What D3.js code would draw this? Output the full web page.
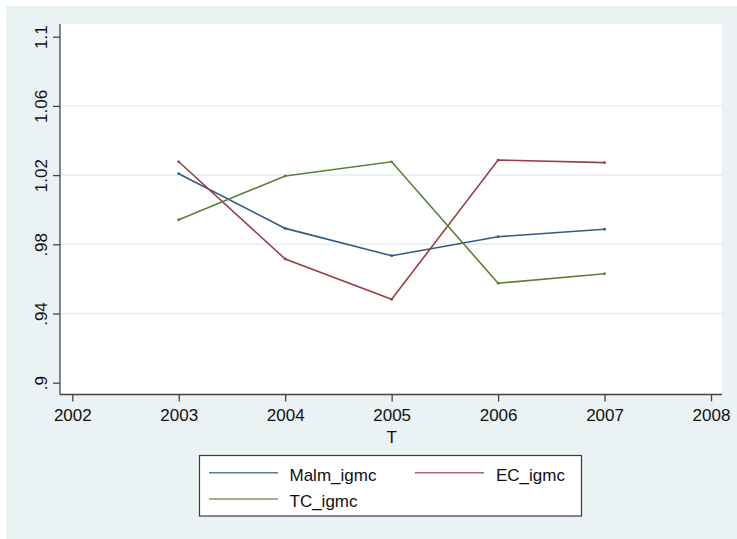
<!DOCTYPE html>
<html>
<head>
<meta charset="utf-8">
<script src="https://cdn.jsdelivr.net/npm/d3@7"></script>
<style>
  html, body { margin: 0; padding: 0; background: #ffffff; }
  svg { display: block; font-family: "Liberation Sans", Arial, Helvetica, sans-serif; }
</style>
</head>
<body>
<svg id="chart" width="737" height="539"></svg>
<script>
// Yearly index values
const years = [2003, 2004, 2005, 2006, 2007];
const malmIgmc = [1.0208, 0.9892, 0.9734, 0.9844, 0.9887];
const ecIgmc   = [1.0277, 0.9715, 0.9482, 1.0287, 1.0272];
const tcIgmc   = [0.9942, 1.0195, 1.0277, 0.9575, 0.9630];

const xTicks = [2002, 2003, 2004, 2005, 2006, 2007, 2008];
const yTicks = [0.9, 0.94, 0.98, 1.02, 1.06, 1.1];
const yTickLabels = [".9", ".94", ".98", "1.02", "1.06", "1.1"];

const seriesNames = ["Malm_igmc", "EC_igmc", "TC_igmc"];
const seriesValues = [malmIgmc, ecIgmc, tcIgmc];
const seriesColors = ["#2f5b86", "#9b3f46", "#5e7f38"];

const svg = d3.select("#chart");

// Outer graph region
svg.append("rect")
  .attr("x", 6).attr("y", 6).attr("width", 731).attr("height", 533)
  .attr("fill", "#eaf2f3");

// Plot region
const plot = { left: 60, top: 24, right: 722, bottom: 394.5 };
svg.append("rect")
  .attr("x", plot.left).attr("y", plot.top)
  .attr("width", plot.right - plot.left).attr("height", plot.bottom - plot.top)
  .attr("fill", "#ffffff");

const x = d3.scaleLinear().domain([2002, 2008]).range([72.3, 711]);
const y = d3.scaleLinear().domain([0.9, 1.1]).range([382.7, 36.7]);

// Horizontal grid
svg.append("g")
  .selectAll("line")
  .data(yTicks.filter(t => t > 0.9 && t < 1.1))
  .join("line")
  .attr("x1", plot.left).attr("x2", plot.right)
  .attr("y1", d => y(d)).attr("y2", d => y(d))
  .attr("stroke", "#e6eef0").attr("stroke-width", 1.5);

// Y axis
const yAxis = d3.axisLeft(y)
  .tickValues(yTicks)
  .tickFormat((d, i) => yTickLabels[i])
  .tickSize(7)
  .tickSizeOuter(0);
const gy = svg.append("g")
  .attr("transform", `translate(${plot.left},0)`)
  .call(yAxis);
gy.select(".domain")
  .attr("d", `M0,${plot.top}V${plot.bottom}`)
  .attr("stroke", "#444").attr("stroke-width", 1.3);
gy.selectAll(".tick line").attr("stroke", "#444").attr("stroke-width", 1.3);
gy.selectAll(".tick text")
  .attr("font-size", 17)
  .attr("fill", "#111")
  .attr("text-anchor", "middle")
  .attr("transform", "rotate(-90)")
  .attr("x", 0)
  .attr("y", -13.3)
  .attr("dy", 0);

// X axis
const xAxis = d3.axisBottom(x)
  .tickValues(xTicks)
  .tickFormat(d3.format("d"))
  .tickSize(7)
  .tickSizeOuter(0);
const gx = svg.append("g")
  .attr("transform", `translate(0,${plot.bottom})`)
  .call(xAxis);
gx.select(".domain")
  .attr("d", `M${plot.left},0H${plot.right}`)
  .attr("stroke", "#444").attr("stroke-width", 1.3);
gx.selectAll(".tick line").attr("stroke", "#444").attr("stroke-width", 1.3);
gx.selectAll(".tick text")
  .attr("font-size", 17)
  .attr("fill", "#111")
  .attr("y", 26.5)
  .attr("dy", 0);

// Axis title
svg.append("text")
  .attr("x", x(2005)).attr("y", 443)
  .attr("text-anchor", "middle")
  .attr("font-size", 17)
  .attr("fill", "#111")
  .text("T");

// Series lines
const line = d3.line()
  .x((d, i) => x(years[i]))
  .y(d => y(d));

seriesValues.forEach((vals, k) => {
  svg.append("path")
    .datum(vals)
    .attr("d", line)
    .attr("fill", "none")
    .attr("stroke", seriesColors[k])
    .attr("stroke-width", 1.6)
    .attr("stroke-linejoin", "miter");
  svg.append("g")
    .selectAll("circle")
    .data(vals)
    .join("circle")
    .attr("cx", (d, i) => x(years[i]))
    .attr("cy", d => y(d))
    .attr("r", 1.4)
    .attr("fill", seriesColors[k]);
});

// Legend
const legend = svg.append("g");
legend.append("rect")
  .attr("x", 199.5).attr("y", 455.5).attr("width", 382).attr("height", 60.5)
  .attr("fill", "#ffffff")
  .attr("stroke", "#3a3a3a").attr("stroke-width", 1.2);

const legendPos = [
  { lx: 209, ly: 472.7, tx: 289.5, ty: 480.8 },
  { lx: 415, ly: 472.7, tx: 496, ty: 480.8 },
  { lx: 209, ly: 499, tx: 289.5, ty: 507 }
];
seriesNames.forEach((name, k) => {
  const p = legendPos[k];
  legend.append("line")
    .attr("x1", p.lx).attr("x2", p.lx + 69)
    .attr("y1", p.ly).attr("y2", p.ly)
    .attr("stroke", seriesColors[k]).attr("stroke-width", 1.6)
    .attr("opacity", 0.8);
  legend.append("text")
    .attr("x", p.tx).attr("y", p.ty)
    .attr("font-size", 17)
    .attr("fill", "#111")
    .text(name);
});
</script>
</body>
</html>
